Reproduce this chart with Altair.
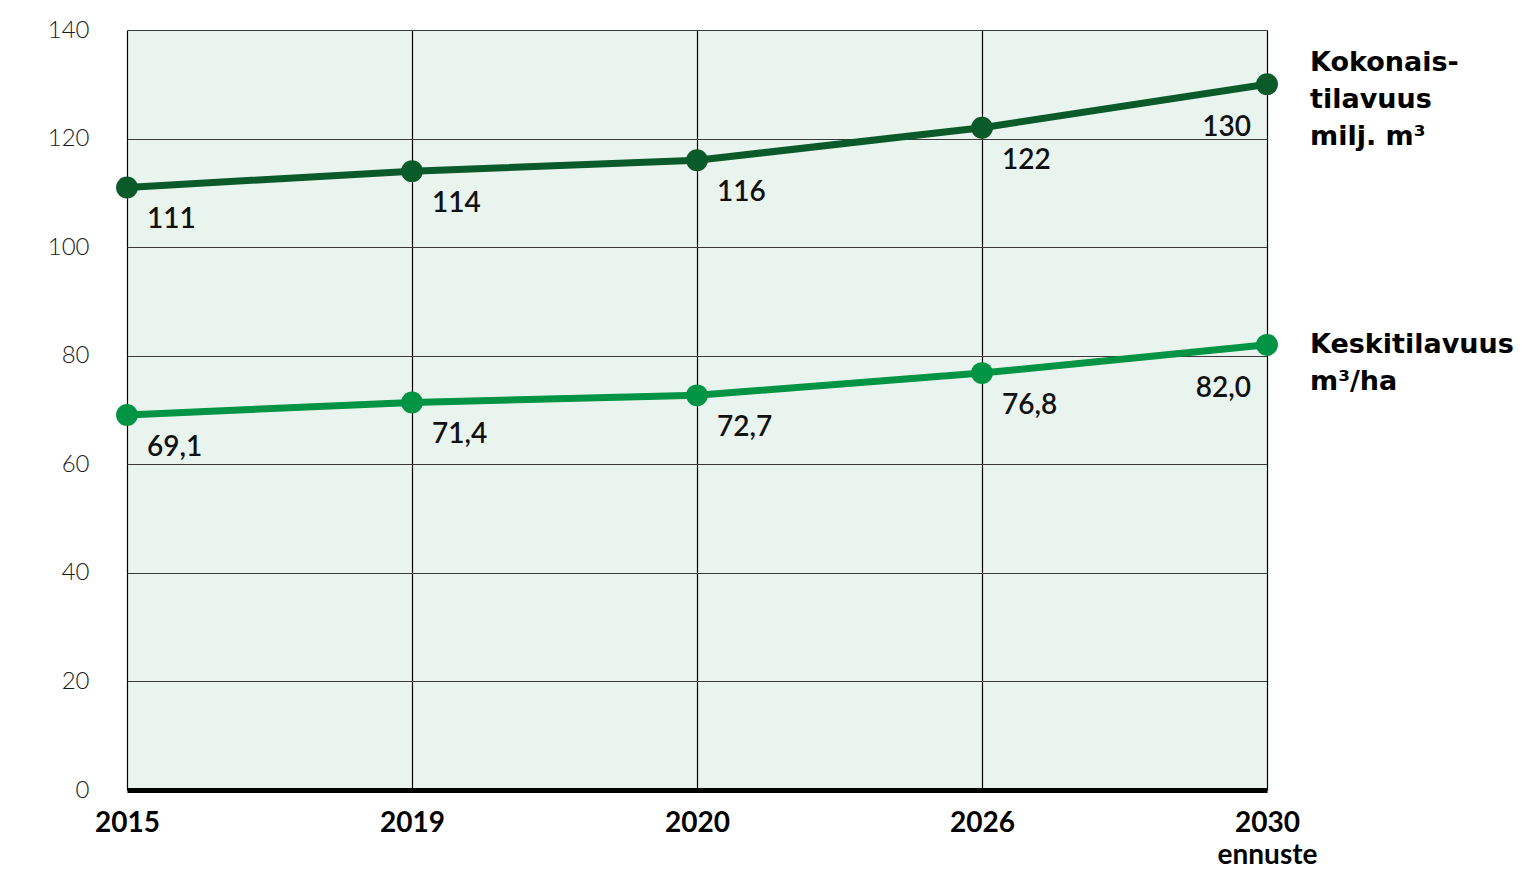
import altair as alt
import pandas as pd

years = ["2015", "2019", "2020", "2026", "2030"]
total = [111, 114, 116, 122, 130]
avg = [69.1, 71.4, 72.7, 76.8, 82.0]
total_labels = ["111", "114", "116", "122", "130"]
avg_labels = ["69,1", "71,4", "72,7", "76,8", "82,0"]
series = ["Kokonaistilavuus", "Keskitilavuus"]
series_names = ["Kokonais-\ntilavuus\nmilj. m³", "Keskitilavuus\nm³/ha"]
colors = ["#0a5a2a", "#009444"]
y_ticks = [0, 20, 40, 60, 80, 100, 120, 140]

rows = []
for s, name, vals, labs in [(series[0], series_names[0], total, total_labels),
                            (series[1], series_names[1], avg, avg_labels)]:
    for i, (yr, v, lb) in enumerate(zip(years, vals, labs)):
        rows.append({"year": yr, "value": v, "label": lb, "series": s,
                     "name": name, "last": i == len(years) - 1})
df = pd.DataFrame(rows)

FONT = "Lato"
NAME_FONT = "DejaVu Sans"

x = alt.X("year:N", sort=years, title=None,
          scale=alt.Scale(type="point", padding=0),
          axis=alt.Axis(grid=True, gridColor="#000000", gridWidth=1.2,
                        domain=True, domainColor="#000000", domainWidth=5,
                        ticks=False, labelAngle=0, labelFont=FONT,
                        labelFontSize=28, labelFontWeight="bold",
                        labelColor="#000000", labelPadding=33,
                        labelLineHeight=32, labelBaseline="middle",
                        labelExpr="datum.value == '2030' ? ['2030', 'ennuste'] : datum.value"))
y = alt.Y("value:Q", title=None,
          scale=alt.Scale(domain=[0, 140], nice=False, zero=True),
          axis=alt.Axis(values=y_ticks, grid=True, gridColor="#3a3a3a",
                        gridWidth=1, domain=False, ticks=False,
                        labelFont=FONT, labelFontSize=24, labelFontWeight=300,
                        labelColor="#1a1a1a", labelPadding=38))
color = alt.Color("series:N", scale=alt.Scale(domain=series, range=colors), legend=None)

base = alt.Chart(df).encode(x=x, y=y, color=color)

line = base.mark_line(strokeWidth=7)
pts = base.mark_circle(size=480, opacity=1)
lab = base.transform_filter("!datum.last").mark_text(
    align="left", baseline="middle", dx=20, dy=33, font=FONT, fontSize=28,
    fontWeight=600).encode(text="label:N", color=alt.value("#111111"))
lab_last = base.transform_filter("datum.last").mark_text(
    align="right", baseline="middle", dx=-16, dy=44, font=FONT, fontSize=28,
    fontWeight=600).encode(text="label:N", color=alt.value("#111111"))
name_total = base.transform_filter(
    f"datum.last && datum.series == '{series[0]}'").mark_text(
    align="left", baseline="middle", dx=43, dy=-21, font=NAME_FONT, fontSize=27,
    fontWeight="bold", lineBreak="\n", lineHeight=37).encode(
    text="name:N", color=alt.value("#000000"))
name_avg = base.transform_filter(
    f"datum.last && datum.series == '{series[1]}'").mark_text(
    align="left", baseline="middle", dx=43, dy=0, font=NAME_FONT, fontSize=27,
    fontWeight="bold", lineBreak="\n", lineHeight=37).encode(
    text="name:N", color=alt.value("#000000"))

chart = alt.layer(line, pts, lab, lab_last, name_total, name_avg).properties(
    width=1140, height=760,
    autosize=alt.AutoSizeParams(type="none"),
    padding={"left": 119, "top": 22, "right": 247, "bottom": 81},
).configure_view(fill="#eaf4ee", stroke="transparent")

chart.save("out.html", embed_options={"renderer": "svg", "actions": False})
